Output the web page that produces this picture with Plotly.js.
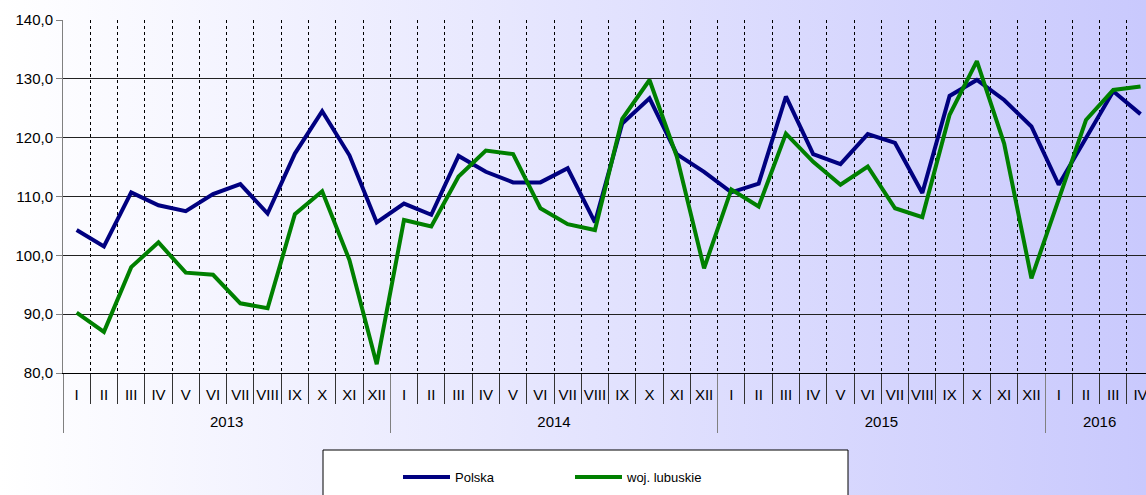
<!DOCTYPE html>
<html>
<head>
<meta charset="utf-8">
<script src="https://cdn.plot.ly/plotly-3.0.1.min.js"></script>
<style>
html,body{margin:0;padding:0;overflow:hidden;}
body{width:1146px;height:495px;background:linear-gradient(to right,#ffffff 0%,#c9c9fd 100%);}
#chart{width:1146px;height:495px;}
</style>
</head>
<body>
<div id="chart"></div>
<script>
const years = ['2013','2014','2015','2016'];
const monthsPerYear = [12,12,12,4];
const monthLabels = ['I','II','III','IV','V','VI','VII','VIII','IX','X','XI','XII'];

const polska = [
  104.3,101.5,110.7,108.5,107.5,110.4,112.1,107.1,117.3,124.5,117.0,105.6,
  108.8,106.9,116.9,114.2,112.4,112.4,114.8,105.6,122.4,126.7,117.2,114.2,
  110.7,112.2,127.0,117.2,115.5,120.6,119.1,110.6,127.1,129.8,126.4,121.9,
  112.0,119.8,127.9,124.0
];
const lubuskie = [
  90.25,87.0,98.0,102.2,97.05,96.7,91.85,91.0,107.0,110.9,99.2,81.5,
  106.0,104.9,113.4,117.8,117.2,108.0,105.3,104.3,123.2,129.8,116.8,97.8,
  111.2,108.3,120.7,115.9,112.0,115.1,108.0,106.5,123.9,133.0,119.0,96.1,
  109.5,123.0,128.1,128.7
];

// category keys (unique per month) and their displayed month labels
const xKeys = [], xMonthText = [];
const yearCenters = [], yearBounds = [];
let idx = 0;
years.forEach((y, i) => {
  yearBounds.push(idx - 0.5);
  yearCenters.push(idx + (monthsPerYear[i] - 1) / 2);
  for (let m = 0; m < monthsPerYear[i]; m++) {
    xKeys.push(monthLabels[m] + ' ' + y);
    xMonthText.push(monthLabels[m]);
    idx++;
  }
});

const traces = [
  {x:xKeys, y:polska, name:'Polska', type:'scatter', mode:'lines',
   line:{color:'#000080', width:4}},
  {x:xKeys, y:lubuskie, name:'woj. lubuskie', type:'scatter', mode:'lines',
   line:{color:'#008000', width:4}},
  // empty helper trace so the year axis (x2) is drawn
  {x:yearCenters, y:years.map(() => null), xaxis:'x2', yaxis:'y', type:'scatter',
   mode:'lines', showlegend:false, hoverinfo:'skip'}
];

const L=63, R=1146, T=20, B=373;
const pw=R-L, ph=B-T;
const px = v => (v-L)/pw;
const py = v => (B-v)/ph;
const xRange = [-0.5, 39.2];

const layout = {
  width:1146, height:495,
  margin:{l:L, r:1146-R, t:T, b:495-B, pad:0},
  paper_bgcolor:'rgba(0,0,0,0)', plot_bgcolor:'rgba(0,0,0,0)',
  font:{family:'Liberation Sans, Arial, sans-serif', color:'#000', size:14},
  showlegend:true,
  legend:{orientation:'h', x:px(398), y:py(477), xanchor:'left', yanchor:'middle',
    bgcolor:'rgba(0,0,0,0)', borderwidth:0, font:{size:13, color:'#000'},
    entrywidth:110, entrywidthmode:'pixels', itemwidth:47},
  xaxis:{type:'category', range:xRange, showgrid:true, griddash:'dot',
    gridcolor:'#000', gridwidth:1, tickson:'boundaries', ticks:'outside', ticklen:30,
    tickcolor:'#333', tickwidth:1, tickmode:'array', tickvals:xKeys, ticktext:xMonthText,
    tickfont:{size:15, color:'#000'}, tickangle:0, ticklabelstandoff:8,
    showline:true, linecolor:'#000', linewidth:1, zeroline:false, fixedrange:true},
  xaxis2:{overlaying:'x', anchor:'y', side:'bottom', type:'linear', range:xRange,
    showgrid:false, zeroline:false, showline:false, tickmode:'array',
    tickvals:yearCenters, ticktext:years, ticks:'', tickangle:0,
    tickfont:{size:15, color:'#000'}, ticklabelstandoff:38,
    minor:{tickmode:'array', tickvals:yearBounds, ticks:'outside', ticklen:59,
      tickcolor:'#808080', tickwidth:1, showgrid:false},
    fixedrange:true},
  yaxis:{range:[80,140], dtick:10, tick0:80, tickformat:'.1f', showgrid:true, gridcolor:'#222',
    gridwidth:1, showline:true, linecolor:'#808080', linewidth:1, ticks:'outside', ticklen:6,
    tickcolor:'#808080', tickfont:{size:15, color:'#000'}, zeroline:false, fixedrange:true},
  separators:', ',
  shapes:[{type:'rect', xref:'paper', yref:'paper', x0:px(323), x1:px(848), y0:py(450), y1:py(510),
    fillcolor:'#ffffff', line:{color:'#000', width:1}, layer:'below'}]
};

Plotly.newPlot('chart', traces, layout, {displayModeBar:false, staticPlot:true});
</script>
</body>
</html>
